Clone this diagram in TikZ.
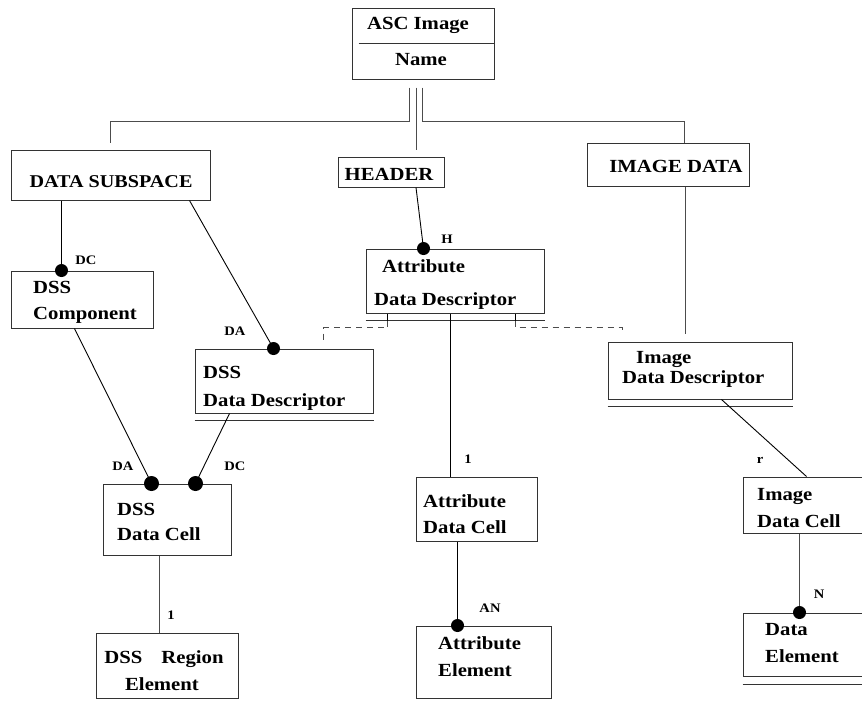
\documentclass[tikz,border=0pt]{standalone}
\usepackage{fontspec}
\setmainfont{Liberation Serif}[FakeStretch=1.12]
\usetikzlibrary{calc}
\tikzset{
 box/.style={draw=black!80, line width=1pt, rectangle, inner sep=0pt},
 big/.style={font=\fontsize{18.5}{22}\selectfont\bfseries, inner sep=0pt, anchor=base west},
 bigc/.style={big, anchor=base},
 lab/.style={font=\fontsize{13}{15}\selectfont\bfseries, inner sep=0pt, anchor=base},
 dot/.style={circle, fill=black, inner sep=0pt, minimum size=13pt},
 bdot/.style={dot, minimum size=15pt},
 conn/.style={line width=0.9pt, black},
 tree/.style={line width=1pt, black!70},
 dashline/.style={line width=0.9pt, black!70, dash pattern=on 6pt off 5pt},
 uline/.style={line width=1pt, black!80},
}
\begin{document}
\begin{tikzpicture}[x=1pt,y=-1pt]
\useasboundingbox (0,0) rectangle (862,702);
\clip (0,0) rectangle (862,702);
\fill[white] (0,0) rectangle (862,702);
% boxes
\node[box, minimum width=142pt, minimum height=71pt] (asc) at (423,43.5) {};
\node[box, minimum width=199pt, minimum height=50pt] (ds) at (110.5,175) {};
\node[box, minimum width=106pt, minimum height=30pt] (hdr) at (391,172) {};
\node[box, minimum width=162pt, minimum height=43pt] (imd) at (668,164.5) {};
\node[box, minimum width=142pt, minimum height=57pt] (dssc) at (82,299.5) {};
\node[box, minimum width=178pt, minimum height=64pt] (add) at (455,281) {};
\node[box, minimum width=178pt, minimum height=64pt] (dssdd) at (284,381) {};
\node[box, minimum width=184pt, minimum height=57pt] (idd) at (700,370.5) {};
\node[box, minimum width=128pt, minimum height=71pt] (dsscell) at (167,519.5) {};
\node[box, minimum width=121pt, minimum height=64pt] (adc) at (476.5,509) {};
\node[box, minimum width=137pt, minimum height=56pt] (idc) at (811.5,505) {};
\node[box, minimum width=142pt, minimum height=65pt] (dssre) at (167,665.5) {};
\node[box, minimum width=135pt, minimum height=72pt] (ae) at (483.5,662) {};
\node[box, minimum width=137pt, minimum height=63pt] (de) at (811.5,644.5) {};
% separator and underlines
\draw[uline] ($(asc.west)+(7,0)$) -- (asc.east);
\draw[uline] ($(add.south west)+(0,7)$) -- ($(add.south east)+(0,7)$);
\draw[uline] ($(dssdd.south west)+(0,7)$) -- ($(dssdd.south east)+(0,7)$);
\draw[uline] ($(idd.south west)+(0,7)$) -- ($(idd.south east)+(0,7)$);
\draw[uline] ($(de.south west)+(0,8)$) -- ($(de.south east)+(0,8)$);
% texts
\node[bigc] (t1) at (418,29) {ASC Image};
\node[bigc] (t2) at (421,65) {Name};
\node[bigc, font=\fontsize{18}{21}\selectfont\bfseries] (t3) at (111,187) {DATA SUBSPACE};
\node[bigc] (t4) at (389,180) {HEADER};
\node[bigc] (t5) at (676,172) {IMAGE DATA};
\node[big] (t6) at (33,293) {DSS};
\node[big] (t7) at (33,319) {Component};
\node[big] (t8) at (382,272) {Attribute};
\node[big] (t9) at (374,305) {Data Descriptor};
\node[big] (t10) at (203,378) {DSS};
\node[big] (t11) at (203,406) {Data Descriptor};
\node[big] (t12) at (636,363) {Image};
\node[big] (t13) at (622,383) {Data Descriptor};
\node[big] (t14) at (117,515) {DSS};
\node[big] (t15) at (117,540) {Data Cell};
\node[big] (t16) at (423,507) {Attribute};
\node[big] (t17) at (423,533) {Data Cell};
\node[big] (t18) at (757,500) {Image};
\node[big] (t19) at (757,527) {Data Cell};
\node[bigc] (t20) at (164,663) {DSS\hspace{19pt}Region};
\node[bigc] (t21) at (162,690) {Element};
\node[big] (t22) at (438,649) {Attribute};
\node[big] (t23) at (438,676) {Element};
\node[big] (t24) at (765,635) {Data};
\node[big] (t25) at (765,662) {Element};
% tree from ASC Image
\draw[tree] ($(asc.south)+(-14,8)$) |- ($(ds.north)+(0,-28)$) -- ($(ds.north)+(0,-7)$);
\draw[tree] ($(asc.south)+(-7,8)$) -- ($(hdr.north)+(25,-7)$);
\draw[tree] ($(asc.south)+(-1,8)$) |- ($(imd.north west)+(98,-21)$) -- ($(imd.north west)+(98,0)$);
% dots positions
\coordinate (p1) at ($(dssc.north west)+(51,0)$);
\coordinate (p2) at ($(dssdd.north west)+(79,0)$);
\coordinate (p3) at ($(add.north west)+(58,0)$);
\coordinate (p4) at ($(dsscell.north west)+(49,0)$);
\coordinate (p5) at ($(dsscell.north west)+(93,0)$);
\coordinate (p6) at ($(ae.north west)+(42,0)$);
\coordinate (p7) at ($(de.north west)+(57,0)$);
% connectors
\draw[conn] (ds.south -| p1) -- (p1);
\draw[conn] ($(ds.south east)+(-21,0)$) -- (p2);
\draw[conn] ($(hdr.south)+(25,0)$) -- (p3);
\draw[tree] ($(imd.south west)+(99,0)$) -- ($(idd.north west)+(78,-8)$);
\draw[conn] ($(add.south west)+(85,0)$) -- ($(adc.north west)+(35,0)$);
\draw[conn] ($(idd.south west)+(114,0)$) -- ($(idc.north west)+(64,0)$);
\draw[conn] ($(dssc.south west)+(64,0)$) -- (p4);
\draw[conn] ($(dssdd.south west)+(35,0)$) -- (p5);
\draw[tree] ($(dsscell.south west)+(57,0)$) -- ($(dssre.north west)+(64,0)$);
\draw[conn] ($(adc.south west)+(42,0)$) -- (p6);
\draw[tree] ($(idc.south west)+(57,0)$) -- (p7);
% dashed links
\draw[conn] ($(add.south west)+(22,0)$) -- ($(add.south west)+(22,7)$);
\draw[dashline] ($(add.south west)+(22,7)$) |- ($(dssdd.north east)+(-50,-21)$) -- ($(dssdd.north east)+(-50,-6)$);
\draw[conn] ($(add.south east)+(-29,0)$) -- ($(add.south east)+(-29,7)$);
\draw[dashline] ($(add.south east)+(-29,7)$) |- ($(idd.north west)+(15,-14)$) -- ($(idd.north west)+(15,-8)$);
% dots
\node[dot] (d1) at (p1) {};
\node[dot] (d2) at (p2) {};
\node[dot] (d3) at (p3) {};
\node[bdot] (d4) at (p4) {};
\node[bdot] (d5) at (p5) {};
\node[dot] (d6) at (p6) {};
\node[dot] (d7) at (p7) {};
% labels
\node[lab] (l1) at (86,264) {DC};
\node[lab] (l2) at (235,335) {DA};
\node[lab] (l3) at (447,243) {H};
\node[lab] (l4) at (468,463) {1};
\node[lab] (l5) at (760,463) {r};
\node[lab] (l6) at (123,470) {DA};
\node[lab] (l7) at (235,470) {DC};
\node[lab] (l8) at (171,619) {1};
\node[lab] (l9) at (490,612) {AN};
\node[lab] (l10) at (819,598) {N};
\end{tikzpicture}
\end{document}
